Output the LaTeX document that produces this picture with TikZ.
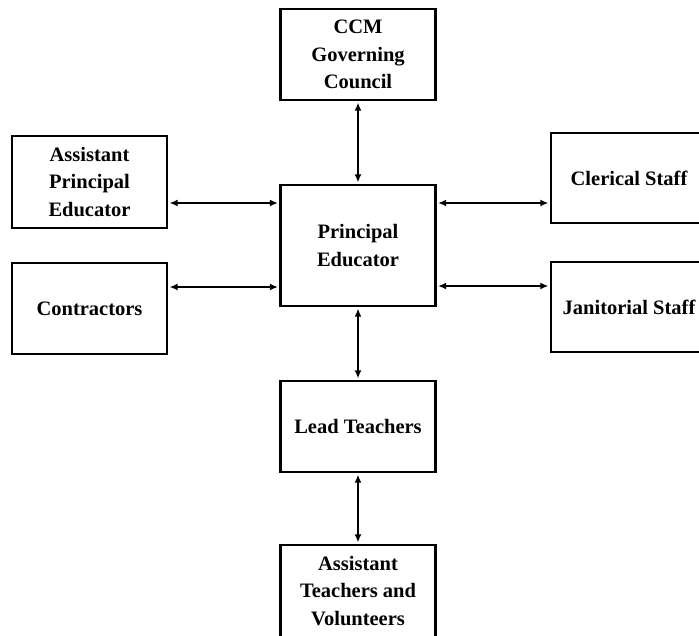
\documentclass[tikz,border=0pt]{standalone}
\usepackage{fontspec}
\setmainfont{Liberation Serif}
\usetikzlibrary{arrows.meta}

\begin{document}
\begin{tikzpicture}[x=1pt, y=-1pt,
    box/.style={draw, line width=2.2pt, minimum width=155pt, align=center,
        inner sep=0pt, font=\fontsize{20.5}{27.5}\selectfont\bfseries},
    link/.style={line width=1.6pt, {Latex[length=8pt,width=7pt]}-{Latex[length=8pt,width=7pt]},
        shorten <=1.5pt, shorten >=1.5pt}]
    \useasboundingbox (0,0) rectangle (699,635);
    \clip (0,0) rectangle (699,635);

    % Boxes
    \node[box, minimum height=91pt] (council) at (358,54.5) {CCM\\Governing\\Council};
    \node[box, minimum height=92pt] (asstprincipal) at (89.5,182) {Assistant\\Principal\\Educator};
    \node[box, minimum height=121pt] (principal) at (358,245.5) {Principal\\Educator};
    \node[box, minimum height=90pt, minimum width=156pt] (clerical) at (629,178) {Clerical Staff};
    \node[box, minimum height=91pt] (contractors) at (89.5,308.5) {Contractors};
    \node[box, minimum height=90pt, minimum width=156pt] (janitorial) at (629,307) {Janitorial Staff};
    \node[box, minimum height=91pt] (lead) at (358,426.5) {Lead Teachers};
    \node[box, minimum height=92pt] (asstteachers) at (358,591) {Assistant\\Teachers and\\Volunteers};

    % Two-way links
    \draw[link] (council.south) -- (principal.north);
    \draw[link] ([yshift=-21pt]asstprincipal.east) -- ([yshift=42.5pt]principal.west);
    \draw[link] ([yshift=21.5pt]contractors.east) -- ([yshift=-41.5pt]principal.west);
    \draw[link] ([yshift=42.5pt]principal.east) -- ([yshift=-25pt]clerical.west);
    \draw[link] ([yshift=-40.5pt]principal.east) -- ([yshift=21pt]janitorial.west);
    \draw[link] (principal.south) -- (lead.north);
    \draw[link] (lead.south) -- (asstteachers.north);

\end{tikzpicture}
\end{document}
